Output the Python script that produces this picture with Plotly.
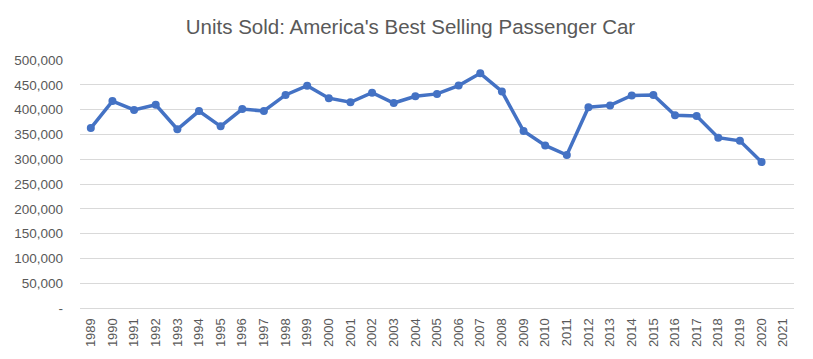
import plotly.graph_objects as go

years = [str(y) for y in range(1989, 2022)]
units = [362707, 417179, 399297, 409751, 360448, 397037, 366266, 401049, 397156,
         429575, 448162, 422961, 414718, 434145, 413296, 426990, 431703, 448445,
         473108, 436617, 356824, 327804, 308510, 404886, 408484, 428606, 429355,
         388618, 387081, 343439, 336978, 294348, None]
y_ticks = [0, 50000, 100000, 150000, 200000, 250000, 300000, 350000, 400000, 450000, 500000]
y_labels = ["-", "50,000", "100,000", "150,000", "200,000", "250,000", "300,000",
            "350,000", "400,000", "450,000", "500,000"]

font_family = "Liberation Sans, Arial, sans-serif"
grey = "#595959"

fig = go.Figure(go.Scatter(
    x=years, y=units, mode="lines+markers",
    line=dict(color="#4472C4", width=3.5),
    marker=dict(color="#4472C4", size=8),
    connectgaps=False,
))

# page body has an 8px default margin, so the figure is shifted by 8px
fig.update_layout(
    width=805, height=351,
    margin=dict(l=72, r=19, t=52, b=51, autoexpand=False),
    paper_bgcolor="white", plot_bgcolor="white",
    title=dict(text="Units Sold: America's Best Selling Passenger Car",
               x=0.5, xanchor="center", y=0.945, yanchor="middle",
               font=dict(family=font_family, size=20.5, color=grey)),
    showlegend=False,
    font=dict(family=font_family, color=grey),
)
fig.update_xaxes(type="category", range=[-0.5, len(years) - 0.5],
                 tickangle=-90, tickfont=dict(size=13, color=grey),
                 showgrid=False, showline=True, linecolor="#D9D9D9", linewidth=1,
                 ticks="", ticklabelstandoff=4, automargin=False)
fig.update_yaxes(range=[0, 500000], tickvals=y_ticks, ticktext=y_labels,
                 tickfont=dict(size=13.5, color=grey),
                 showgrid=True, gridcolor="#D9D9D9", gridwidth=1,
                 zeroline=False, showline=False, ticks="", ticklabelstandoff=16,
                 automargin=False)

fig.write_html("out.html")
